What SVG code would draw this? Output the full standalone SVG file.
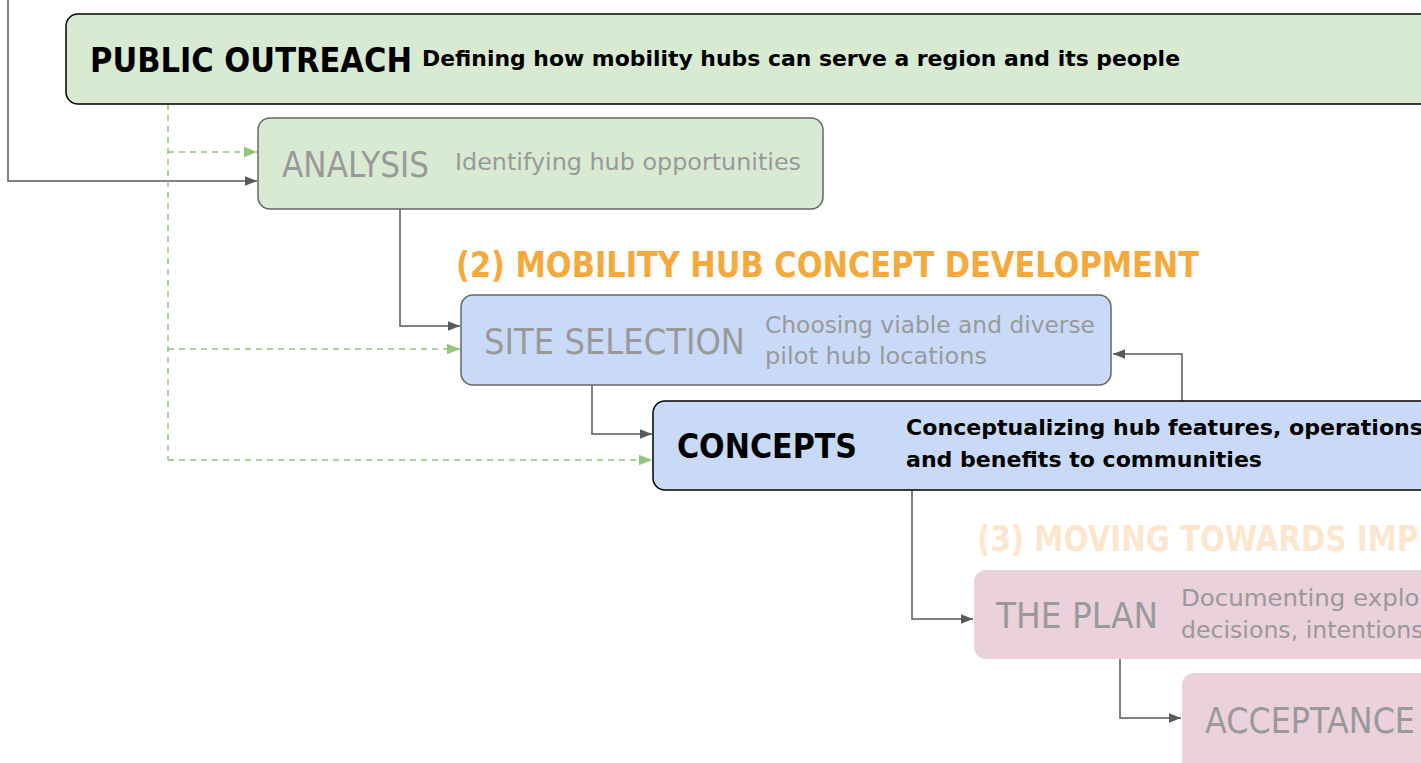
<svg xmlns="http://www.w3.org/2000/svg" width="1421" height="763" viewBox="0 0 1421 763">
<defs>
<style>
text{font-family:"DejaVu Sans","Liberation Sans",sans-serif}
.b{font-weight:bold}
.gray{fill:#999999}
.blk{fill:#000000}
.conn{fill:none;stroke:#595959;stroke-width:1.5}
.dash{fill:none;stroke:#93c47d;stroke-width:1.5;stroke-dasharray:6 5}
</style>
<marker id="ag" viewBox="0 0 10 10" refX="10" refY="5" markerWidth="12" markerHeight="12" markerUnits="userSpaceOnUse" orient="auto"><path d="M0,1 L10,5 L0,9 Z" fill="#595959"/></marker>
<marker id="agr" viewBox="0 0 10 10" refX="10" refY="5" markerWidth="13" markerHeight="13" markerUnits="userSpaceOnUse" orient="auto"><path d="M0,1 L10,5 L0,9 Z" fill="#93c47d"/></marker>
</defs>
<rect width="1421" height="763" fill="#ffffff"/>
<g id="connectors">
<path class="conn" d="M8,0 V181 H257" marker-end="url(#ag)"/>
<path class="dash" d="M168,104 V460"/>
<path class="dash" d="M168,152 H257" marker-end="url(#agr)"/>
<path class="dash" d="M168,349 H460" marker-end="url(#agr)"/>
<path class="dash" d="M168,460 H652" marker-end="url(#agr)"/>
<path class="conn" d="M400,209 V326 H460" marker-end="url(#ag)"/>
<path class="conn" d="M592,385 V434 H652" marker-end="url(#ag)"/>
<path class="conn" d="M1182,401 V354 H1113" marker-end="url(#ag)"/>
<path class="conn" d="M912,490 V619 H973" marker-end="url(#ag)"/>
<path class="conn" d="M1120,659 V718 H1181" marker-end="url(#ag)"/>
</g>
<g id="public-outreach">
<rect x="66" y="14" width="1380" height="90" rx="12" fill="#d9ead3" stroke="#000" stroke-width="1.5"/>
<text x="90" y="72" class="b blk" font-size="34" textLength="322" lengthAdjust="spacingAndGlyphs">PUBLIC OUTREACH</text>
<text x="422" y="66" class="b blk" font-size="22" textLength="758" lengthAdjust="spacingAndGlyphs">Defining how mobility hubs can serve a region and its people</text>
</g>
<g id="analysis">
<rect x="258" y="118" width="565" height="91" rx="12" fill="#d9ead3" stroke="#666" stroke-width="1.5"/>
<text x="282" y="177" class="gray" font-size="35" textLength="147" lengthAdjust="spacingAndGlyphs">ANALYSIS</text>
<text x="455" y="170" class="gray" font-size="23" textLength="346" lengthAdjust="spacingAndGlyphs">Identifying hub opportunities</text>
</g>
<g id="phase2-title">
<text x="456" y="277" class="b" fill="#f6a93b" font-size="35" textLength="743" lengthAdjust="spacingAndGlyphs">(2) MOBILITY HUB CONCEPT DEVELOPMENT</text>
</g>
<g id="site-selection">
<rect x="461" y="295" width="650" height="90" rx="12" fill="#c9daf8" stroke="#666" stroke-width="1.5"/>
<text x="484" y="354" class="gray" font-size="35" textLength="261" lengthAdjust="spacingAndGlyphs">SITE SELECTION</text>
<text x="765" y="333" class="gray" font-size="23" textLength="330" lengthAdjust="spacingAndGlyphs">Choosing viable and diverse</text>
<text x="765" y="364" class="gray" font-size="23" textLength="222" lengthAdjust="spacingAndGlyphs">pilot hub locations</text>
</g>
<g id="concepts">
<rect x="653" y="401" width="800" height="89" rx="12" fill="#c9daf8" stroke="#000" stroke-width="1.5"/>
<text x="677" y="458" class="b blk" font-size="33" textLength="180" lengthAdjust="spacingAndGlyphs">CONCEPTS</text>
<text x="906" y="435" class="b blk" font-size="22" textLength="517" lengthAdjust="spacingAndGlyphs">Conceptualizing hub features, operations</text>
<text x="906" y="467" class="b blk" font-size="22" textLength="356" lengthAdjust="spacingAndGlyphs">and benefits to communities</text>
</g>
<g id="phase3-title">
<text x="977" y="551" class="b" fill="#fde6cf" font-size="35" textLength="672" lengthAdjust="spacingAndGlyphs">(3) MOVING TOWARDS IMPLEMENTATION</text>
</g>
<g id="the-plan">
<rect x="974" y="570" width="600" height="89" rx="12" fill="#ead1dc"/>
<text x="996" y="628" class="gray" font-size="35" textLength="162" lengthAdjust="spacingAndGlyphs">THE PLAN</text>
<text x="1181" y="606" class="gray" font-size="23" textLength="318" lengthAdjust="spacingAndGlyphs">Documenting exploration,</text>
<text x="1181" y="638" class="gray" font-size="23" textLength="250" lengthAdjust="spacingAndGlyphs">decisions, intentions,</text>
</g>
<g id="acceptance">
<rect x="1182" y="673" width="400" height="120" rx="12" fill="#ead1dc"/>
<text x="1205" y="733" class="gray" font-size="35" textLength="210" lengthAdjust="spacingAndGlyphs">ACCEPTANCE</text>
</g>
</svg>
